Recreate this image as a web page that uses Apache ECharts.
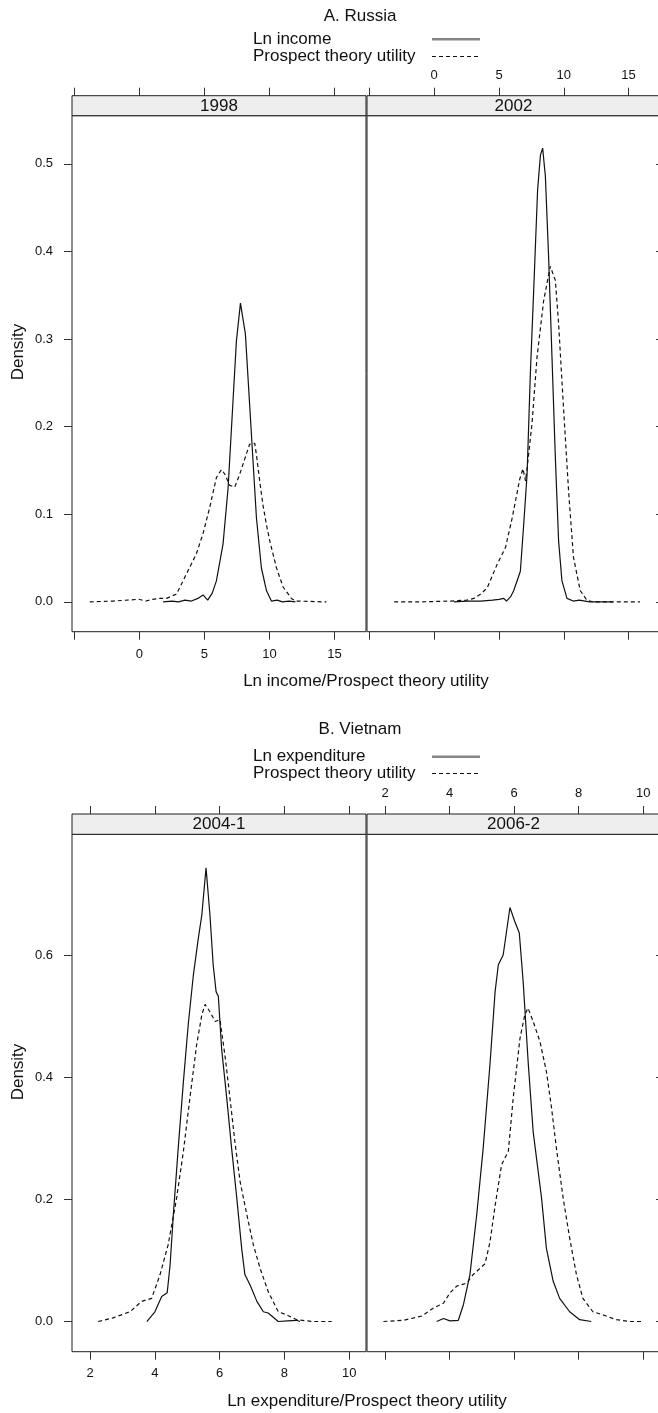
<!DOCTYPE html>
<html><head><meta charset="utf-8">
<script src="https://cdn.jsdelivr.net/npm/echarts@6.0.0/dist/echarts.min.js"></script>
<style>html,body{margin:0;padding:0;overflow:hidden;background:#fff}#c{width:670px;height:1413px}</style>
</head><body><div id="c"></div><script>
// ---------- data ----------
const russiaPanels = ['1998', '2002'];
const vietnamPanels = ['2004-1', '2006-2'];
const russiaLegend = ['Ln income', 'Prospect theory utility'];
const vietnamLegend = ['Ln expenditure', 'Prospect theory utility'];

const russiaXTicks = [-5, 0, 5, 10, 15];
const russiaXLabels = [0, 5, 10, 15];
const russiaYTicks = [0, 0.1, 0.2, 0.3, 0.4, 0.5];
const vietnamXTicks = [2, 4, 6, 8, 10];
const vietnamXLabels = [2, 4, 6, 8, 10];
const vietnamYTicks = [0, 0.2, 0.4, 0.6];

const russia1998Income = [[1.82,0],[2.5,0.001],[3.0,0.0],[3.5,0.002],[4.0,0.001],[4.5,0.004],[4.89,0.008],[5.25,0.002],[5.6,0.01],[5.92,0.024],[6.43,0.066],[6.82,0.13],[7.2,0.23],[7.46,0.298],[7.77,0.341],[8.15,0.306],[8.62,0.19],[9.0,0.096],[9.38,0.039],[9.77,0.013],[10.15,0.001],[10.6,0.002],[11.0,0.0],[11.5,0.001],[12.0,0]];
const russia1998Utility = [[-3.82,0],[-2,0.001],[-1,0.002],[-0.05,0.003],[0.5,0.001],[1.0,0.003],[1.56,0.004],[2.08,0.004],[2.85,0.009],[3.62,0.032],[4.38,0.055],[4.89,0.078],[5.41,0.108],[5.92,0.142],[6.31,0.151],[6.56,0.146],[6.95,0.133],[7.33,0.131],[7.72,0.146],[8.23,0.169],[8.48,0.18],[8.87,0.181],[9.0,0.168],[9.25,0.138],[9.51,0.11],[9.77,0.088],[10.02,0.07],[10.54,0.039],[11.05,0.017],[11.69,0.004],[12.0,0.001],[14.38,0]];
const russia2002Income = [[1.52,0],[2.5,0.001],[3.58,0.001],[4.5,0.002],[5.0,0.003],[5.37,0.004],[5.58,0.001],[5.9,0.006],[6.14,0.013],[6.65,0.035],[6.91,0.089],[7.17,0.146],[7.42,0.26],[7.73,0.375],[7.98,0.47],[8.2,0.51],[8.37,0.518],[8.58,0.486],[8.83,0.394],[9.09,0.28],[9.35,0.165],[9.6,0.07],[9.86,0.024],[10.25,0.004],[10.73,0.001],[11.2,0.002],[12,0],[13.8,0]];
const russia2002Utility = [[-3.09,0],[-1,0],[1.27,0.001],[2.5,0.002],[3.06,0.004],[3.6,0.009],[4.09,0.016],[4.86,0.043],[5.5,0.062],[6.02,0.096],[6.6,0.14],[6.85,0.152],[7.05,0.138],[7.3,0.17],[7.55,0.204],[7.94,0.28],[8.45,0.344],[8.96,0.383],[9.1,0.384],[9.35,0.367],[9.6,0.318],[9.98,0.222],[10.37,0.127],[10.75,0.051],[11.27,0.013],[11.78,0.002],[12.29,0],[15.88,0]];

const vietnam2004Expenditure = [[3.75,0],[4.0,0.016],[4.21,0.041],[4.38,0.047],[4.47,0.093],[4.57,0.175],[4.72,0.284],[4.88,0.393],[5.03,0.487],[5.19,0.569],[5.34,0.628],[5.45,0.667],[5.58,0.744],[5.70,0.667],[5.80,0.585],[5.89,0.541],[5.96,0.533],[6.06,0.448],[6.22,0.366],[6.37,0.284],[6.53,0.202],[6.68,0.12],[6.78,0.077],[6.94,0.06],[7.15,0.033],[7.35,0.016],[7.5,0.014],[7.81,0],[8.1,0.001],[8.38,0.002],[8.48,0]];
const vietnam2004Utility = [[2.25,0],[2.71,0.006],[3.23,0.016],[3.59,0.033],[3.9,0.038],[4.16,0.077],[4.41,0.126],[4.67,0.202],[4.88,0.279],[5.08,0.366],[5.29,0.454],[5.45,0.503],[5.55,0.52],[5.70,0.508],[5.86,0.492],[6.01,0.495],[6.17,0.434],[6.32,0.366],[6.47,0.295],[6.63,0.23],[6.84,0.175],[7.04,0.126],[7.25,0.087],[7.5,0.049],[7.81,0.016],[8.07,0.011],[8.38,0.003],[8.89,0],[9.46,0]];
const vietnam2006Expenditure = [[3.6,0],[3.81,0.005],[4.01,0.001],[4.27,0.002],[4.43,0.028],[4.63,0.077],[4.84,0.175],[5.04,0.284],[5.25,0.421],[5.41,0.541],[5.51,0.585],[5.66,0.601],[5.87,0.679],[6.02,0.656],[6.16,0.637],[6.28,0.557],[6.44,0.421],[6.59,0.311],[6.85,0.202],[7.0,0.12],[7.21,0.066],[7.41,0.038],[7.72,0.016],[8.03,0.003],[8.39,0]];
const vietnam2006Utility = [[1.95,0],[2.57,0.002],[3.14,0.009],[3.5,0.022],[3.81,0.03],[4.01,0.047],[4.22,0.058],[4.53,0.063],[4.73,0.077],[4.94,0.087],[5.10,0.095],[5.25,0.13],[5.41,0.19],[5.61,0.257],[5.82,0.279],[5.97,0.366],[6.18,0.464],[6.33,0.503],[6.43,0.514],[6.59,0.492],[6.80,0.459],[7.0,0.41],[7.16,0.35],[7.31,0.284],[7.52,0.202],[7.72,0.137],[7.93,0.077],[8.13,0.038],[8.44,0.016],[8.75,0.011],[9.17,0.003],[9.58,0],[9.99,0]];

// ---------- layout ----------
const F = "'Liberation Sans', Arial, Helvetica, sans-serif";
const russiaXRange = [-5.19, 17.43];
const russiaYRange = [-0.034, 0.555];
const vietnamXRange = [1.44, 10.52];
const vietnamYRange = [-0.0495, 0.799];

const grids = [
  {left:72, top:115.7, width:294, height:516},
  {left:367, top:115.7, width:293, height:516},
  {left:72, top:834.3, width:294, height:517.4},
  {left:367, top:834.3, width:293, height:517.4}
].map(g => Object.assign(g, {show:true, borderColor:'#1e1e1e', borderWidth:1, backgroundColor:'rgba(0,0,0,0)', containLabel:false}));

function xa(gi, pos, rng, ticks, labels, margin, offset) {
  const o = {
    type:'value', gridIndex:gi, position:pos, min:rng[0], max:rng[1], offset:offset||0,
    axisLine:{show:false, onZero:false}, splitLine:{show:false},
    axisTick:{show:true, inside:false, length:8, lineStyle:{color:'#333', width:1}, customValues:ticks},
    axisLabel:{show:!!labels, margin:margin, color:'#111', fontSize:13, fontFamily:F}
  };
  if (labels) o.axisLabel.customValues = labels;
  return o;
}
function ya(gi, pos, rng, ticks, showLabels) {
  const o = {
    type:'value', gridIndex:gi, position:pos, min:rng[0], max:rng[1],
    axisLine:{show:false, onZero:false}, splitLine:{show:false},
    axisTick:{show:true, inside:!showLabels, length:showLabels?8:4, lineStyle:{color:'#333', width:1}, customValues:ticks},
    axisLabel:{show:showLabels, margin:19, color:'#111', fontSize:13, fontFamily:F, formatter:v => v.toFixed(1)}
  };
  if (showLabels) o.axisLabel.customValues = ticks;
  return o;
}

const xAxes = [
  xa(0,'bottom',russiaXRange,russiaXTicks,russiaXLabels,16,0),
  xa(0,'top',russiaXRange,russiaXTicks,null,14,20),
  xa(1,'bottom',russiaXRange,russiaXTicks,null,16,0),
  xa(1,'top',russiaXRange,russiaXTicks,russiaXLabels,14,20),
  xa(2,'bottom',vietnamXRange,vietnamXTicks,vietnamXLabels,15,0),
  xa(2,'top',vietnamXRange,vietnamXTicks,null,14,20.3),
  xa(3,'bottom',vietnamXRange,vietnamXTicks,null,15,0),
  xa(3,'top',vietnamXRange,vietnamXTicks,vietnamXLabels,14,20.3)
];
const yAxes = [
  ya(0,'left',russiaYRange,russiaYTicks,true),
  ya(1,'right',russiaYRange,russiaYTicks,false),
  ya(2,'left',vietnamYRange,vietnamYTicks,true),
  ya(3,'right',vietnamYRange,vietnamYTicks,false)
];

function ser(name, data, xi, yi, dashed) {
  return {
    name:name, type:'line', data:data, xAxisIndex:xi, yAxisIndex:yi,
    symbol:'none', smooth:false, animation:false, silent:true,
    lineStyle:{color:'#111', width:1.2, type: dashed ? [4,3] : 'solid'}
  };
}
const series = [
  ser(russiaLegend[0], russia1998Income, 0, 0, false),
  ser(russiaLegend[1], russia1998Utility, 0, 0, true),
  ser(russiaLegend[0], russia2002Income, 2, 1, false),
  ser(russiaLegend[1], russia2002Utility, 2, 1, true),
  ser(vietnamLegend[0], vietnam2004Expenditure, 4, 2, false),
  ser(vietnamLegend[1], vietnam2004Utility, 4, 2, true),
  ser(vietnamLegend[0], vietnam2006Expenditure, 6, 3, false),
  ser(vietnamLegend[1], vietnam2006Utility, 6, 3, true)
];

function txt(x, y, s, size, align, rot) {
  return {type:'text', x:x, y:y, rotation:rot||0, z:100,
    style:{text:s, fill:'#111', font: size + 'px ' + F, textAlign:align||'center', textVerticalAlign:'middle'}};
}
function strip(x, y, w, h, label) {
  return [
    {type:'rect', shape:{x:x, y:y, width:w, height:h}, z:90, style:{fill:'#eeeeee', stroke:'#1e1e1e', lineWidth:1}},
    txt(x + w/2, y + h/2 + 0.5, label, 17, 'center')
  ];
}
function legend(y1, y2, labels) {
  return [
    txt(253, y1, labels[0], 17, 'left'),
    txt(253, y2, labels[1], 17, 'left'),
    {type:'line', z:100, shape:{x1:432, y1:y1, x2:480, y2:y1}, style:{stroke:'#858585', lineWidth:2.5}},
    {type:'line', z:100, shape:{x1:432, y1:y2, x2:480, y2:y2}, style:{stroke:'#111', lineWidth:1, lineDash:[4,3]}}
  ];
}

const graphics = [].concat(
  txt(360, 16, 'A. Russia', 17, 'center'),
  legend(39.3, 56.5, russiaLegend),
  strip(72, 95.7, 294, 20, russiaPanels[0]),
  strip(367, 95.7, 293, 20, russiaPanels[1]),
  txt(366, 681.7, 'Ln income/Prospect theory utility', 17, 'center'),
  txt(18, 352, 'Density', 17, 'center', Math.PI/2),
  txt(360, 729.3, 'B. Vietnam', 17, 'center'),
  legend(756.7, 773.5, vietnamLegend),
  strip(72, 814, 294, 20.3, vietnamPanels[0]),
  strip(367, 814, 293, 20.3, vietnamPanels[1]),
  txt(367, 1401.7, 'Ln expenditure/Prospect theory utility', 17, 'center'),
  txt(18, 1072, 'Density', 17, 'center', Math.PI/2)
);

const chart = echarts.init(document.getElementById('c'), null, {renderer:'canvas'});
chart.setOption({
  animation:false,
  backgroundColor:'#ffffff',
  textStyle:{fontFamily:F},
  grid:grids, xAxis:xAxes, yAxis:yAxes, series:series,
  graphic:{elements:graphics}
});
</script></body></html>
